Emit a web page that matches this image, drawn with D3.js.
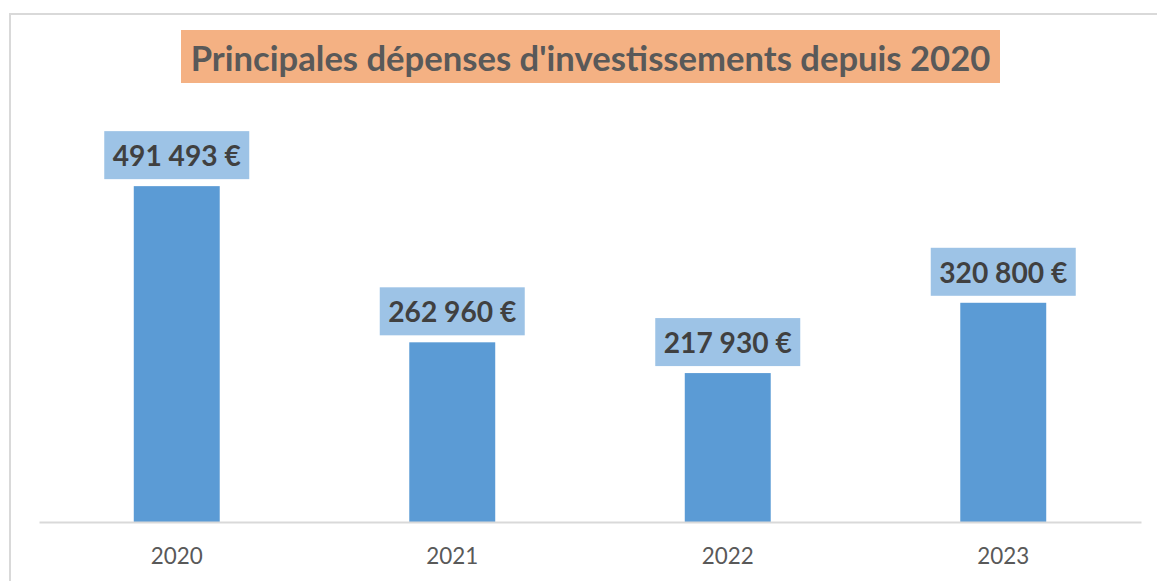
<!DOCTYPE html>
<html>
<head>
<meta charset="utf-8">
<script src="https://cdn.jsdelivr.net/npm/d3@7/dist/d3.min.js"></script>
<style>
  html, body { margin: 0; padding: 0; background: #fff; }
  svg { display: block; }
</style>
</head>
<body>
<script>
const categories = ["2020", "2021", "2022", "2023"];
const values = [491493, 262960, 217930, 320800];
const valueLabels = ["491 493 €", "262 960 €", "217 930 €", "320 800 €"];
const title = "Principales dépenses d'investissements depuis 2020";

const W = 1157, H = 581;
const font = "Lato, 'Open Sans', sans-serif";

const svg = d3.select("body").append("svg").attr("width", W).attr("height", H);

// chart border (left + top visible)
svg.append("rect")
  .attr("x", 10).attr("y", 14)
  .attr("width", W + 20).attr("height", H + 20)
  .attr("fill", "none").attr("stroke", "#d9d9d9").attr("stroke-width", 2);

const x = d3.scaleBand().domain(categories).range([39, 1141]).paddingInner(0.688).paddingOuter(0.344);
const y = d3.scaleLinear().domain([0, 600000]).range([522, 112]);

// fit text to a target width
function fit(sel, target) {
  sel.each(function() {
    const t = d3.select(this);
    const fs = parseFloat(t.attr("font-size"));
    const w = this.getComputedTextLength();
    t.attr("font-size", fs * target / w);
  });
}

// Title
const tg = svg.append("g");
tg.append("rect").attr("x", 181).attr("y", 30).attr("width", 819).attr("height", 53).attr("fill", "#f4b183");
const tt = tg.append("text").attr("x", 590.5).attr("y", 57).attr("text-anchor", "middle")
  .attr("dominant-baseline", "central")
  .attr("font-family", font).attr("font-weight", "bold").attr("font-size", 30)
  .attr("fill", "#595959").text(title);
fit(tt, 800);

// Bars
svg.append("g").selectAll("rect").data(values).join("rect")
  .attr("x", (d, i) => x(categories[i]))
  .attr("width", x.bandwidth())
  .attr("y", d => y(d))
  .attr("height", d => y(0) - y(d))
  .attr("fill", "#5b9bd5");

// Axis
const xAxis = svg.append("g").attr("transform", `translate(0,${y(0)})`)
  .call(d3.axisBottom(x).tickSize(0).tickPadding(24));
xAxis.select(".domain").attr("stroke", "#d9d9d9").attr("stroke-width", 2);
xAxis.selectAll("text").attr("font-family", font).attr("font-size", 22).attr("fill", "#595959")
  .attr("dy", "0.32em").attr("y", 35);
fit(xAxis.selectAll("text"), 52);

// Value labels
const lg = svg.append("g").selectAll("g").data(values).join("g")
  .attr("transform", (d, i) => `translate(${x(categories[i]) + x.bandwidth() / 2},${y(d) - 7})`);
lg.append("rect").attr("x", -72.5).attr("y", -48).attr("width", 145).attr("height", 48).attr("fill", "#9dc3e6");
const lt = lg.append("text").attr("x", 0).attr("y", -24).attr("text-anchor", "middle")
  .attr("dominant-baseline", "central")
  .attr("font-family", font).attr("font-weight", "bold").attr("font-size", 28)
  .attr("fill", "#404040").text((d, i) => valueLabels[i]);
fit(lt, 128);
</script>
</body>
</html>
